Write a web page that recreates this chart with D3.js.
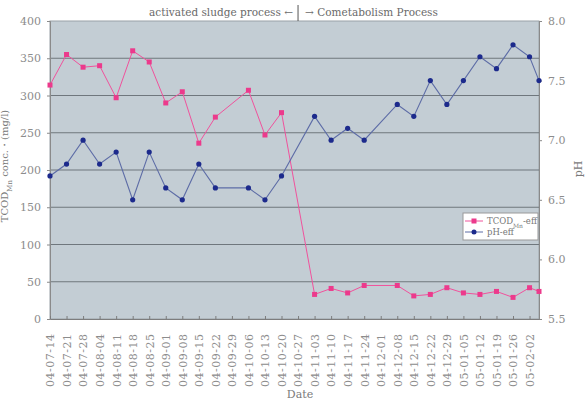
<!DOCTYPE html>
<html>
<head>
<meta charset="utf-8">
<script src="https://cdn.jsdelivr.net/npm/d3@7/dist/d3.min.js"></script>
<style>
  body { margin: 0; background: #fff; }
  text { font-family: "DejaVu Serif", "Liberation Serif", serif; }
</style>
</head>
<body>
<div id="chart"></div>
<script>
// Sampling dates (yy-mm-dd)
var dates = ["04-07-14", "04-07-21", "04-07-28", "04-08-04", "04-08-11", "04-08-18", "04-08-25",
	"04-09-01", "04-09-08", "04-09-15", "04-09-22", "04-10-06", "04-10-13", "04-10-20",
	"04-11-03", "04-11-10", "04-11-17", "04-11-24", "04-12-08", "04-12-15", "04-12-22",
	"04-12-29", "05-01-05", "05-01-12", "05-01-19", "05-01-26", "05-02-02", "05-02-06"];

// TCOD(Mn) effluent [mg/l]
var tcodEff = [314, 355, 338, 340, 297, 360, 345, 290, 305, 236, 271, 307, 247, 277,
	33, 41, 35, 45, 45, 31, 33, 42, 35, 33, 37, 29, 42, 37];

// pH effluent
var phEff = [6.7, 6.8, 7.0, 6.8, 6.9, 6.5, 6.9, 6.6, 6.5, 6.8, 6.6, 6.6, 6.5, 6.7,
	7.2, 7.0, 7.1, 7.0, 7.3, 7.2, 7.5, 7.3, 7.5, 7.7, 7.6, 7.8, 7.7, 7.5];

// Weekly labels on the date axis
var dateTicks = ["04-07-14", "04-07-21", "04-07-28", "04-08-04", "04-08-11", "04-08-18",
	"04-08-25", "04-09-01", "04-09-08", "04-09-15", "04-09-22", "04-09-29", "04-10-06",
	"04-10-13", "04-10-20", "04-10-27", "04-11-03", "04-11-10", "04-11-17", "04-11-24",
	"04-12-01", "04-12-08", "04-12-15", "04-12-22", "04-12-29", "05-01-05", "05-01-12",
	"05-01-19", "05-01-26", "05-02-02"];

var leftTicks = [0, 50, 100, 150, 200, 250, 300, 350, 400];
var rightTicks = [5.5, 6.0, 6.5, 7.0, 7.5, 8.0];
var switchDate = "04-10-27";   // activated sludge -> cometabolism

var parseDate = d3.timeParse("%y-%m-%d");
var fmtDate = d3.timeFormat("%y-%m-%d");

// Dimensions
var margin = {top: 21, right: 46, bottom: 83, left: 50},
	width = 585 - margin.left - margin.right,
	height = 402 - margin.top - margin.bottom;

var svg = d3.select("#chart")
	.append("svg")
	.attr("width", 585)
	.attr("height", 402)
	.append("g")
	.attr("transform", "translate(" + margin.left + "," + margin.top + ")");

var x = d3.scaleTime()
	.domain([parseDate(dates[0]), parseDate(dates[dates.length - 1])])
	.range([0, width]);

var yLeft = d3.scaleLinear().domain([0, 400]).range([height, 0]);
var yRight = d3.scaleLinear().domain([5.5, 8.0]).range([height, 0]);

// Plot background
svg.append("rect")
	.attr("width", width)
	.attr("height", height)
	.attr("fill", "#c3cdd4")
	.attr("stroke", "#9aa2a8");

// Horizontal gridlines (left axis)
svg.selectAll("gridline")
	.data(leftTicks.filter(function(d) { return d > 0 && d < 400; }))
	.enter()
	.append("line")
	.attr("x1", 0)
	.attr("x2", width)
	.attr("y1", function(d) { return yLeft(d); })
	.attr("y2", function(d) { return yLeft(d); })
	.attr("stroke", "#6f777d")
	.attr("stroke-width", 1.2);

// Left axis
var gLeft = svg.append("g")
	.call(d3.axisLeft(yLeft).tickValues(leftTicks).tickSize(3).tickPadding(6));
gLeft.selectAll("text").style("font-size", "11px").attr("fill", "#8c8c8c");
gLeft.selectAll("line, path").attr("stroke", "#8a8a8a");

// Right axis
var gRight = svg.append("g")
	.attr("transform", "translate(" + width + ",0)")
	.call(d3.axisRight(yRight).tickValues(rightTicks).tickSize(3).tickPadding(6)
		.tickFormat(d3.format(".1f")));
gRight.selectAll("text").style("font-size", "11px").attr("fill", "#8c8c8c");
gRight.selectAll("line, path").attr("stroke", "#8a8a8a");

// Bottom date axis, ticks point inside
var gBottom = svg.append("g")
	.attr("transform", "translate(0," + height + ")")
	.call(d3.axisBottom(x).tickValues(dateTicks.map(parseDate))
		.tickFormat(fmtDate).tickSizeInner(-3).tickSizeOuter(0).tickPadding(8));
gBottom.selectAll("line, path").attr("stroke", "#7d7d7d");
gBottom.selectAll("text")
	.style("font-size", "11px")
	.style("letter-spacing", "0.5px")
	.attr("fill", "#8c8c8c")
	.style("text-anchor", "end")
	.attr("dx", "-0.6em")
	.attr("dy", "0.35em")
	.attr("y", 0)
	.attr("x", -8)
	.attr("transform", "rotate(-90)");

// TCOD line
var tcodData = dates.map(function(d, i) { return {date: parseDate(d), value: tcodEff[i]}; });
var phData = dates.map(function(d, i) { return {date: parseDate(d), value: phEff[i]}; });

svg.append("path")
	.datum(tcodData)
	.attr("fill", "none")
	.attr("stroke", "#f0529c")
	.attr("stroke-width", 1)
	.attr("d", d3.line()
		.x(function(d) { return x(d.date); })
		.y(function(d) { return yLeft(d.value); }));

svg.append("path")
	.datum(phData)
	.attr("fill", "none")
	.attr("stroke", "#5d6ca6")
	.attr("stroke-width", 1.1)
	.attr("d", d3.line()
		.x(function(d) { return x(d.date); })
		.y(function(d) { return yRight(d.value); }));

// Markers
svg.selectAll("tcodpoint")
	.data(tcodData)
	.enter()
	.append("rect")
	.attr("x", function(d) { return x(d.date) - 2.5; })
	.attr("y", function(d) { return yLeft(d.value) - 2.5; })
	.attr("width", 5)
	.attr("height", 5)
	.attr("fill", "#ec3a8c");

svg.selectAll("phpoint")
	.data(phData)
	.enter()
	.append("circle")
	.attr("cx", function(d) { return x(d.date); })
	.attr("cy", function(d) { return yRight(d.value); })
	.attr("r", 2.6)
	.attr("fill", "#1c2a8c");

// Process annotation on top
var xs = x(parseDate(switchDate));
svg.append("line")
	.attr("x1", xs).attr("x2", xs)
	.attr("y1", -16).attr("y2", 0)
	.attr("stroke", "#555")
	.attr("stroke-width", 1);
svg.append("text")
	.attr("x", xs - 5)
	.attr("y", -5)
	.attr("text-anchor", "end")
	.style("font-size", "10.5px")
	.attr("fill", "#6a6a6a")
	.text("activated sludge process \u2190");
svg.append("text")
	.attr("x", xs + 7)
	.attr("y", -5)
	.style("font-size", "10.5px")
	.attr("fill", "#6a6a6a")
	.text("\u2192 Cometabolism Process");

// Axis titles (left one is clipped by the page edge, as in the original)
var yTitle = svg.append("text")
	.attr("transform", "translate(" + (8 - margin.left) + "," + (166 - margin.top) + ") rotate(-90)")
	.attr("text-anchor", "middle")
	.style("font-size", "10px")
	.attr("fill", "#7a7a7a");
yTitle.append("tspan").text("TCOD");
yTitle.append("tspan").attr("baseline-shift", "sub").style("font-size", "7px").text("Mn");
yTitle.append("tspan").text(" conc.\u30FB(mg/l)");

svg.append("text")
	.attr("transform", "translate(" + (width + 43) + "," + (height / 2 - 1) + ") rotate(-90)")
	.attr("text-anchor", "middle")
	.style("font-size", "11px")
	.attr("fill", "#7a7a7a")
	.text("pH");

svg.append("text")
	.attr("x", 250)
	.attr("y", height + 79)
	.attr("text-anchor", "middle")
	.style("font-size", "11px")
	.attr("fill", "#7a7a7a")
	.text("Date");

// Legend
var legend = svg.append("g")
	.attr("transform", "translate(" + (width - 76) + ",192)");
legend.append("rect")
	.attr("width", 75)
	.attr("height", 27)
	.attr("fill", "#fff")
	.attr("stroke", "#999");

var legendItems = [
	{name: "TCOD", sub: "Mn", rest: "-eff", color: "#f0529c", mark: "#ec3a8c", square: true},
	{name: "pH-eff", sub: "", rest: "", color: "#5d6ca6", mark: "#1c2a8c", square: false}
];
legendItems.forEach(function(d, i) {
	var yy = 8 + i * 11;
	legend.append("line")
		.attr("x1", 2).attr("x2", 20)
		.attr("y1", yy).attr("y2", yy)
		.attr("stroke", d.color);
	if (d.square) {
		legend.append("rect").attr("x", 8.5).attr("y", yy - 2.5)
			.attr("width", 5).attr("height", 5).attr("fill", d.mark);
	} else {
		legend.append("circle").attr("cx", 11).attr("cy", yy).attr("r", 2.5).attr("fill", d.mark);
	}
	var t = legend.append("text")
		.attr("x", 24)
		.attr("y", yy + 3)
		.style("font-size", "8.5px")
		.attr("fill", "#777");
	t.append("tspan").text(d.name);
	if (d.sub) {
		t.append("tspan").attr("baseline-shift", "sub").style("font-size", "6px").text(d.sub);
		t.append("tspan").text(d.rest);
	}
});
</script>
</body>
</html>
